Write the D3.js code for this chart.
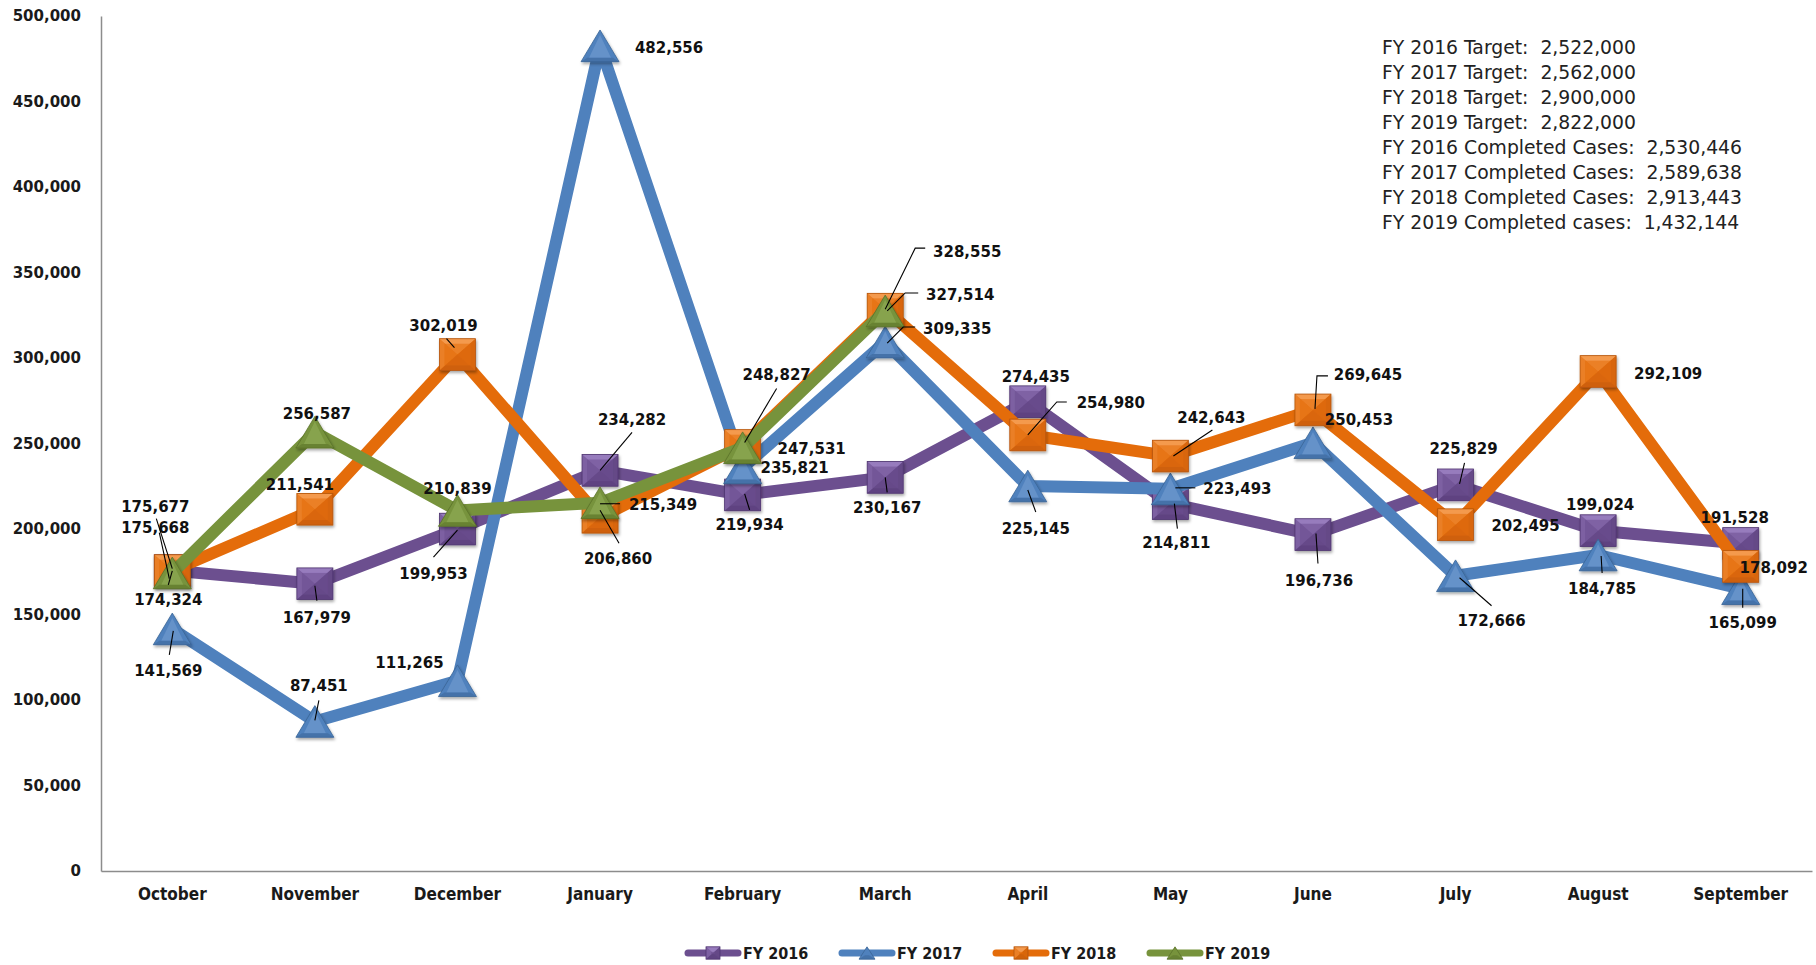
<!DOCTYPE html>
<html>
<head>
<meta charset="utf-8">
<script src="https://cdn.jsdelivr.net/npm/d3@7"></script>
<style>
  body { margin: 0; background: #fff; }
  svg { display: block; }
</style>
</head>
<body>
<svg width="1816" height="965"></svg>
<script>
// ---- data ----
const months = ["October", "November", "December", "January", "February", "March",
    "April", "May", "June", "July", "August", "September"];
const fy2016 = [175668, 167979, 199953, 234282, 219934, 230167, 274435, 214811, 196736, 225829, 199024, 191528];
const fy2017 = [141569, 87451, 111265, 482556, 235821, 309335, 225145, 223493, 250453, 172666, 184785, 165099];
const fy2018 = [175677, 211541, 302019, 206860, 248827, 328555, 254980, 242643, 269645, 202495, 292109, 178092];
const fy2019 = [174324, 256587, 210839, 215349, 247531, 327514];
const seriesNames = ["FY 2016", "FY 2017", "FY 2018", "FY 2019"];
const yTicks = [0, 50000, 100000, 150000, 200000, 250000, 300000, 350000, 400000, 450000, 500000];
const notes = [
    "FY 2016 Target:  2,522,000",
    "FY 2017 Target:  2,562,000",
    "FY 2018 Target:  2,900,000",
    "FY 2019 Target:  2,822,000",
    "FY 2016 Completed Cases:  2,530,446",
    "FY 2017 Completed Cases:  2,589,638",
    "FY 2018 Completed Cases:  2,913,443",
    "FY 2019 Completed cases:  1,432,144"
];

// ---- label placement (offset of label centre from the point, leader polyline) ----
const labels2016 = [[-17, -43], [2, 34], [-24, 44], [32, -51], [7, 30], [2, 30], [8, -25], [6, 39], [6, 46], [8, -36], [2, -26], [-6, -26]];
const leaders2016 = [[[-3, 8], [-13, -38]], [[0, 2], [2, 17]], [[0, 1], [-24, 28]], [[0, 0], [32, -38]], [[2, -1], [7, 15]], [[0, 0], [2, 15]],
    null, [[4, 0], [7, 25]], [[3, -1], [5, 29]], [[4, -1], [9, -22]], null, null];
const labels2017 = [[-4, 42], [4, -36], [-48, -18], [69, 2], [52, 0], [72, -14], [8, 42], [67, 0], [46, -23], [36, 45], [4, 33], [2, 34]];
const leaders2017 = [[[1, 2], [-3, 26]], [[0, -1], [4, -21]], null, null, null, [[2, 1], [18, -15], [30, -15]], [[0, 4], [8, 26]],
    [[5, -1], [25, -1]], null, [[4, 2], [36, 30]], [[3, 1], [4, 18]], [[2, 0], [2, 19]]];
const labels2018 = [[-17, -64], [-15, -25], [-14, -29], [18, 41], [34, -71], [82, -58], [83, -32], [41, -39], [55, -35], [70, 1], [70, 2], [33, 1]];
const leaders2018 = [[[0, -2], [-16, -52]], null, [[-3, -7], [-11, -16]], [[0, -7], [19, 26]], [[2, -3], [34, -57]], [[0, 0], [30, -61], [40, -61]],
    [[0, 0], [29, -33], [39, -33]], [[3, 0], [42, -26]], [[2, -1], [4, -34], [15, -34]], null, null, null];
const labels2019 = [[-4, 27], [2, -19], [0, -22], [63, 2], [69, 1], [75, -16]];
const leaders2019 = [[[0, -2], [-4, 12]], null, null, [[0, 1], [20, 1]], null, [[2, 0], [20, -18], [33, -18]]];

const colors = ["#6c4f8f", "#4f81bd", "#e46c0a", "#77933c"];
const lightColors = ["#9f82c6", "#8fb3e0", "#f7a25a", "#a5c270"];
const darkColors = ["#4f3570", "#3a6496", "#b5540a", "#5a7229"];
const markerTypes = ["square", "triangle", "square", "triangle"];

const series = [fy2016, fy2017, fy2018, fy2019].map((values, k) => ({
    name: seriesNames[k],
    values: values,
    labels: [labels2016, labels2017, labels2018, labels2019][k],
    leaders: [leaders2016, leaders2017, leaders2018, leaders2019][k],
    color: colors[k], light: lightColors[k], dark: darkColors[k], marker: markerTypes[k]
}));

// ---- layout ----
const svg = d3.select("svg");
const margin = {left: 101, right: 4, top: 16, bottom: 94};
const width = +svg.attr("width"), height = +svg.attr("height");

const x = d3.scaleBand().domain(months).range([margin.left, width - margin.right]);
const y = d3.scaleLinear().domain([0, 500000]).range([height - margin.bottom, margin.top]);
const px = i => x(months[i]) + x.bandwidth() / 2;
const fmt = d3.format(",");

const defs = svg.append("defs");
const shadow = defs.append("filter").attr("id", "shadow")
    .attr("x", "-30%").attr("y", "-30%").attr("width", "160%").attr("height", "160%");
shadow.append("feDropShadow").attr("dx", 1).attr("dy", 2).attr("stdDeviation", 1.6)
    .attr("flood-color", "#000").attr("flood-opacity", 0.35);

// axes
const yAxis = svg.append("g")
    .attr("transform", `translate(${margin.left},0)`)
    .call(d3.axisLeft(y).tickValues(yTicks).tickFormat(fmt).tickSize(0).tickPadding(20));
yAxis.select(".domain").attr("stroke", "#8c8c8c").attr("stroke-width", 1.5);
yAxis.selectAll("text")
    .attr("font-family", "DejaVu Sans, Verdana, sans-serif")
    .attr("font-weight", "bold").attr("font-size", 15).attr("fill", "#1a1a1a");

const xAxis = svg.append("g")
    .attr("transform", `translate(0,${height - margin.bottom})`)
    .call(d3.axisBottom(x).tickSize(0).tickPadding(17));
xAxis.select(".domain").attr("stroke", "#8c8c8c").attr("stroke-width", 1.5);
xAxis.selectAll("text")
    .attr("font-family", "'Liberation Sans Narrow', 'DejaVu Sans Condensed', 'Arial Narrow', sans-serif")
    .attr("font-stretch", "condensed")
    .attr("font-weight", "bold").attr("font-size", 17).attr("fill", "#1a1a1a");

// markers
function drawMarker(g, type, s, size) {
    const w = size, h = size * 0.88;
    if (type === "square") {
        const a = w / 2, b = h / 2;
        g.append("rect").attr("x", -a).attr("y", -b).attr("width", w).attr("height", h).attr("fill", s.color);
        g.append("path").attr("d", `M${-a},${-b}L${a},${-b}L0,0Z`).attr("fill", s.light).attr("opacity", 0.85);
        g.append("path").attr("d", `M${-a},${-b}L${-a},${b}L0,0Z`).attr("fill", s.light).attr("opacity", 0.35);
        g.append("path").attr("d", `M${a},${-b}L${a},${b}L0,0Z`).attr("fill", s.dark).attr("opacity", 0.25);
        g.append("path").attr("d", `M${-a},${b}L${a},${b}L0,0Z`).attr("fill", s.dark).attr("opacity", 0.45);
        g.append("rect").attr("x", -a + 5).attr("y", -b + 5).attr("width", w - 10).attr("height", h - 10)
            .attr("fill", s.color).attr("opacity", 0.55);
        g.append("rect").attr("x", -a).attr("y", -b).attr("width", w).attr("height", h)
            .attr("fill", "none").attr("stroke", s.dark).attr("stroke-width", 0.8);
    } else {
        const a = w / 2 + 1, b = h / 2;
        g.append("path").attr("d", `M0,${-b}L${a},${b}L${-a},${b}Z`).attr("fill", s.color)
            .attr("stroke", s.dark).attr("stroke-width", 0.8);
        g.append("path").attr("d", `M0,${-b + 5}L${a - 8},${b - 4}L${-a + 8},${b - 4}Z`).attr("fill", s.light).attr("opacity", 0.35);
        g.append("path").attr("d", `M${-a},${b}L${a},${b}L${a - 6},${b - 4}L${-a + 6},${b - 4}Z`).attr("fill", s.dark).attr("opacity", 0.5);
    }
}

const line = d3.line().x((d, i) => px(i)).y(d => y(d));

series.forEach(s => {
    const g = svg.append("g");
    g.append("path").datum(s.values)
        .attr("d", line)
        .attr("fill", "none")
        .attr("stroke", s.color)
        .attr("stroke-width", 12)
        .attr("stroke-linejoin", "round")
        .attr("stroke-linecap", "round");
    g.selectAll("g.marker").data(s.values).join("g")
        .attr("class", "marker")
        .attr("filter", "url(#shadow)")
        .attr("transform", (d, i) => `translate(${px(i)},${y(d)})`)
        .each(function () { drawMarker(d3.select(this), s.marker, s, 36); });
});

// data labels on top
const labelLayer = svg.append("g");
series.forEach(s => {
    s.values.forEach((v, i) => {
        const cx = px(i), cy = y(v);
        const ld = s.leaders[i];
        if (ld) {
            labelLayer.append("polyline")
                .attr("points", ld.map(p => `${cx + p[0]},${cy + p[1]}`).join(" "))
                .attr("fill", "none").attr("stroke", "#000").attr("stroke-width", 1.1);
        }
        const o = s.labels[i];
        labelLayer.append("text")
            .attr("x", cx + o[0]).attr("y", cy + o[1] + 5.5)
            .attr("text-anchor", "middle")
            .attr("font-family", "DejaVu Sans, Verdana, sans-serif")
            .attr("font-weight", "bold").attr("font-size", 15).attr("fill", "#111")
            .text(fmt(v));
    });
});

// notes box
svg.append("g").selectAll("text").data(notes).join("text")
    .attr("x", 1382).attr("y", (d, i) => 54 + i * 25)
    .attr("font-family", "'DejaVu Sans', sans-serif")
    .attr("font-size", 18.8).attr("fill", "#222")
    .style("white-space", "pre")
    .text(d => d);

// legend
const legend = svg.append("g").attr("transform", "translate(685,953)");
series.forEach((s, k) => {
    const g = legend.append("g").attr("transform", `translate(${k * 154},0)`);
    g.append("line").attr("x1", 3).attr("x2", 53).attr("y1", 0).attr("y2", 0)
        .attr("stroke", s.color).attr("stroke-width", 7).attr("stroke-linecap", "round");
    const m = g.append("g").attr("transform", "translate(28,0)");
    drawMarker(m, s.marker, s, 14);
    g.append("text").attr("x", 58).attr("y", 6)
        .attr("font-family", "'Liberation Sans Narrow', 'DejaVu Sans Condensed', 'Arial Narrow', sans-serif")
        .attr("font-stretch", "condensed")
        .attr("font-weight", "bold").attr("font-size", 16).attr("fill", "#1a1a1a")
        .text(s.name);
});
</script>
</body>
</html>
